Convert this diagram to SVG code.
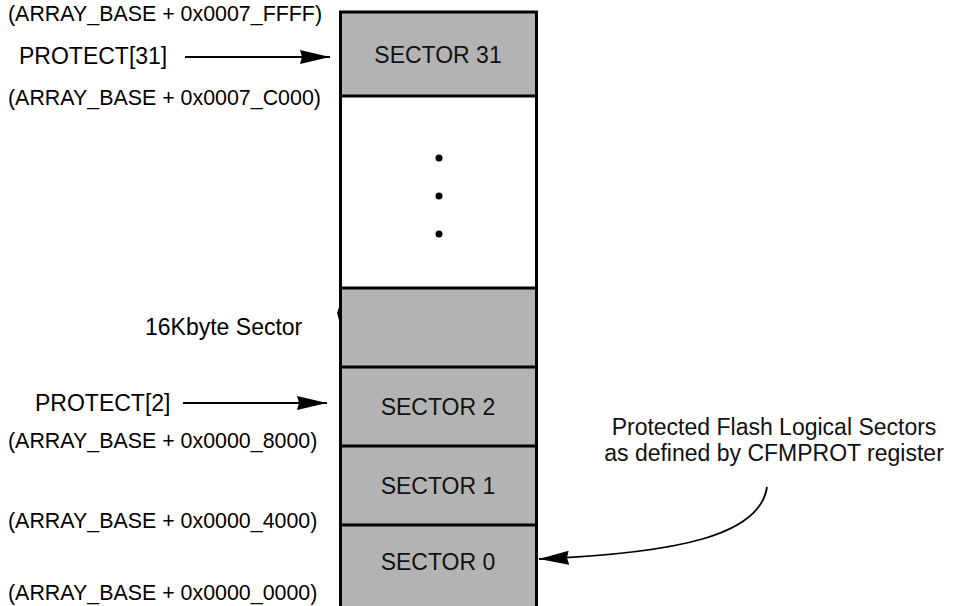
<svg xmlns="http://www.w3.org/2000/svg" width="956" height="606" viewBox="0 0 956 606">
<style>
.lbl{font-family:"Liberation Sans",Arial,sans-serif;font-size:23px;fill:#000}
.addr{font-family:"Liberation Sans",Arial,sans-serif;font-size:21.4px;fill:#000}
.sec{font-family:"Liberation Sans",Arial,sans-serif;font-size:23px;fill:#111;text-anchor:middle}
.grey{fill:#b3b3b3;stroke:none}
.edge{stroke:#000;stroke-width:3;fill:none}
.conn{stroke:#000;stroke-width:1.8;fill:none}
</style>
<defs>
<marker id="ah" markerUnits="userSpaceOnUse" markerWidth="32" markerHeight="16" refX="30" refY="7" orient="auto">
<path d="M0,0 L30,7 L0,14 L2,7 Z" fill="#000"/>
</marker>
</defs>
<rect width="956" height="606" fill="#fff"/>
<g id="sector31">
<rect class="grey" x="340" y="12" width="196" height="84"/>
<text class="sec" x="438" y="63">SECTOR 31</text>
</g>
<g id="gap">
<rect x="340" y="96" width="196" height="192" fill="#fff"/>
<circle cx="439" cy="158" r="3.5" fill="#000"/>
<circle cx="439" cy="196" r="3.5" fill="#000"/>
<circle cx="439" cy="234" r="3.5" fill="#000"/>
</g>
<g id="sector16k">
<rect class="grey" x="340" y="288" width="196" height="79"/>
</g>
<g id="sector2">
<rect class="grey" x="340" y="367" width="196" height="79"/>
<text class="sec" x="438" y="415">SECTOR 2</text>
</g>
<g id="sector1">
<rect class="grey" x="340" y="446" width="196" height="79"/>
<text class="sec" x="438" y="494">SECTOR 1</text>
</g>
<g id="sector0">
<rect class="grey" x="340" y="525" width="196" height="81"/>
<text class="sec" x="438" y="570">SECTOR 0</text>
</g>
<g id="outline">
<path class="edge" d="M340.5,606 V12 H536.5 V606"/>
<path class="edge" d="M340,96 H538 M340,288 H538 M340,367 H538 M340,446 H538 M340,525 H538"/>
</g>
<g id="labels">
<text class="addr" x="8" y="21">(ARRAY_BASE + 0x0007_FFFF)</text>
<text class="lbl" x="19" y="64">PROTECT[31]</text>
<text class="addr" x="8" y="105">(ARRAY_BASE + 0x0007_C000)</text>
<text class="lbl" x="145" y="335">16Kbyte Sector</text>
<text class="lbl" x="35" y="411">PROTECT[2]</text>
<text class="addr" x="8" y="448">(ARRAY_BASE + 0x0000_8000)</text>
<text class="addr" x="8" y="528">(ARRAY_BASE + 0x0000_4000)</text>
<text class="addr" x="8" y="600">(ARRAY_BASE + 0x0000_0000)</text>
<text class="sec" x="774" y="435">Protected Flash Logical Sectors</text>
<text class="sec" x="774" y="461">as defined by CFMPROT register</text>
</g>
<g id="connectors">
<path class="conn" d="M185,57 H330" marker-end="url(#ah)"/>
<path class="conn" d="M183,403 H327" marker-end="url(#ah)"/>
<path class="conn" d="M767,487 C760,535 680,553 539,559" marker-end="url(#ah)"/>
<path class="conn" d="M341,304 L338,313 L341,324"/>
</g>
</svg>
